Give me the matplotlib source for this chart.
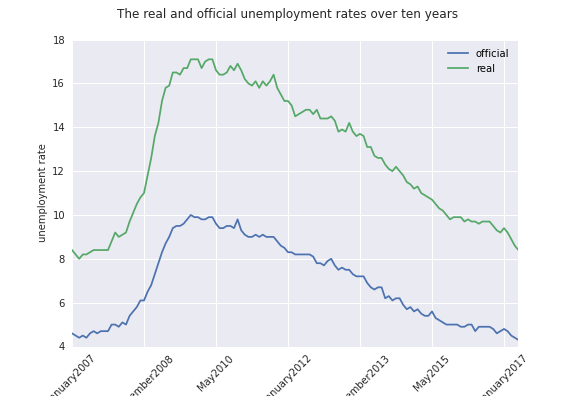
import numpy as np
import pandas as pd
import matplotlib
matplotlib.use("Agg")
import matplotlib.pyplot as plt
from matplotlib.ticker import MultipleLocator

# monthly rates, Jan 2007 - May 2017
official = [4.6, 4.5, 4.4, 4.5, 4.4, 4.6, 4.7, 4.6, 4.7, 4.7, 4.7, 5.0,
            5.0, 4.9, 5.1, 5.0, 5.4, 5.6, 5.8, 6.1, 6.1, 6.5, 6.8, 7.3,
            7.8, 8.3, 8.7, 9.0, 9.4, 9.5, 9.5, 9.6, 9.8, 10.0, 9.9, 9.9,
            9.8, 9.8, 9.9, 9.9, 9.6, 9.4, 9.4, 9.5, 9.5, 9.4, 9.8, 9.3,
            9.1, 9.0, 9.0, 9.1, 9.0, 9.1, 9.0, 9.0, 9.0, 8.8, 8.6, 8.5,
            8.3, 8.3, 8.2, 8.2, 8.2, 8.2, 8.2, 8.1, 7.8, 7.8, 7.7, 7.9,
            8.0, 7.7, 7.5, 7.6, 7.5, 7.5, 7.3, 7.2, 7.2, 7.2, 6.9, 6.7,
            6.6, 6.7, 6.7, 6.2, 6.3, 6.1, 6.2, 6.2, 5.9, 5.7, 5.8, 5.6,
            5.7, 5.5, 5.4, 5.4, 5.6, 5.3, 5.2, 5.1, 5.0, 5.0, 5.0, 5.0,
            4.9, 4.9, 5.0, 5.0, 4.7, 4.9, 4.9, 4.9, 4.9, 4.8, 4.6, 4.7,
            4.8, 4.7, 4.5, 4.4, 4.3]

real = [8.4, 8.2, 8.0, 8.2, 8.2, 8.3, 8.4, 8.4, 8.4, 8.4, 8.4, 8.8,
        9.2, 9.0, 9.1, 9.2, 9.7, 10.1, 10.5, 10.8, 11.0, 11.8, 12.6, 13.6,
        14.2, 15.2, 15.8, 15.9, 16.5, 16.5, 16.4, 16.7, 16.7, 17.1, 17.1, 17.1,
        16.7, 17.0, 17.1, 17.1, 16.6, 16.4, 16.4, 16.5, 16.8, 16.6, 16.9, 16.6,
        16.2, 16.0, 15.9, 16.1, 15.8, 16.1, 15.9, 16.1, 16.4, 15.8, 15.5, 15.2,
        15.2, 15.0, 14.5, 14.6, 14.7, 14.8, 14.8, 14.6, 14.8, 14.4, 14.4, 14.4,
        14.5, 14.3, 13.8, 13.9, 13.8, 14.2, 13.8, 13.6, 13.7, 13.6, 13.1, 13.1,
        12.7, 12.6, 12.6, 12.3, 12.1, 12.0, 12.2, 12.0, 11.8, 11.5, 11.4, 11.2,
        11.3, 11.0, 10.9, 10.8, 10.7, 10.5, 10.3, 10.2, 10.0, 9.8, 9.9, 9.9,
        9.9, 9.7, 9.8, 9.7, 9.7, 9.6, 9.7, 9.7, 9.7, 9.5, 9.3, 9.2,
        9.4, 9.2, 8.9, 8.6, 8.4]

months = pd.date_range("2007-01-01", periods=len(official), freq="MS").strftime("%B%Y")

plt.rcParams['font.family'] = ['DejaVu Sans']

fig = plt.figure(figsize=(8, 5.5), dpi=72)
ax = fig.add_axes([0.125, 0.125, 0.775, 0.775])
ax.set_facecolor('#EAEAF2')
for s in ax.spines.values():
    s.set_visible(False)
ax.grid(True, color='white', linewidth=1.0)
ax.set_axisbelow(True)

x = np.arange(len(months))
ax.plot(x, official, color='#4C72B0', lw=1.75, label='official')
ax.plot(x, real, color='#55A868', lw=1.75, label='real')

ax.set_xlim(0, len(months) - 1)
ax.set_ylim(4, 18)
ax.yaxis.set_major_locator(MultipleLocator(2))
ax.set_xticks(x[::20])
ax.set_xticklabels(months[::20], rotation=45)
ax.tick_params(length=0, labelsize=10, colors='#262626', pad=7)
ax.set_ylabel('unemployment rate', fontsize=10, color='#262626')
ax.legend(loc='upper right', frameon=False, fontsize=10)
fig.suptitle('The real and official unemployment rates over ten years', fontsize=12, color='#262626')

fig.savefig('out.png', dpi=72)
